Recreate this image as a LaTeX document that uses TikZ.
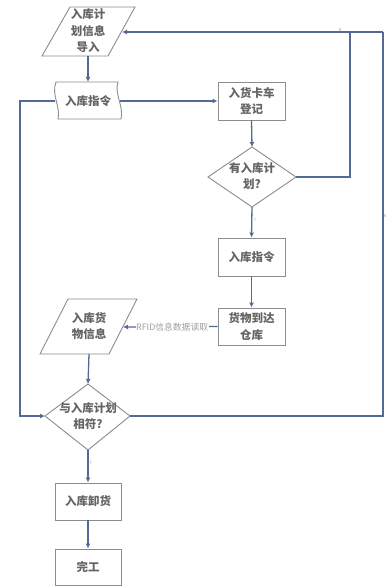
\documentclass[tikz,border=0pt]{standalone}
\usepackage{fontspec}
\setmainfont{Noto Sans CJK SC}
\usetikzlibrary{arrows.meta}
\definecolor{link}{RGB}{84,106,150}
\definecolor{shape}{RGB}{140,140,140}
\definecolor{txt}{RGB}{100,100,100}
\begin{document}
\begin{tikzpicture}[x=1pt,y=-1pt,
  lab/.style={font=\fontsize{11.5}{16.5}\selectfont\bfseries, text=txt, align=center, inner sep=0pt},
  shp/.style={draw=shape, line width=0.9pt, fill=white},
  boxnode/.style={shp, lab, minimum width=67pt, minimum height=38pt},
  conn/.style={draw=link, line width=1.3pt},
  arr/.style={conn, -{Latex[length=5pt,width=5pt]}},
  tiny/.style={font=\fontsize{4}{4}\selectfont, text=gray!70, inner sep=0.5pt},
]
\useasboundingbox (0,0) rectangle (388,588);

% ---- parallelogram 1: import plan
\coordinate (p1tl) at (70,7);  \coordinate (p1tr) at (135,7);
\coordinate (p1br) at (108,56); \coordinate (p1bl) at (42,56);
\draw[shp] (p1tl) -- (p1tr) -- (p1br) -- (p1bl) -- cycle;
\node[lab] (plan) at (88,31) {入库计\\划信息\\导入};
\coordinate (p1s) at (88,56);
\coordinate (p1e) at (122,32);

% ---- tape shape: instruction
\draw[shp] (56,82) -- (118,82)
  .. controls (114,94) and (124,106) .. (121,119)
  -- (58,119)
  .. controls (61,107) and (51,95) .. cycle;
\node[lab] (cmd) at (88,101) {入库指令};
\coordinate (cmdn) at (88,82);
\coordinate (cmde) at (120,101);
\coordinate (cmdw) at (55,101);

% ---- boxes on the right
\node[boxnode] (reg) at (251.5,101) {入货卡车\\登记};
\node[boxnode] (cmd2) at (251.5,257) {入库指令};
\node[boxnode, minimum height=37pt] (arrive) at (251.5,326.5) {货物到达\\仓库};

% ---- diamond 1
\coordinate (d1t) at (252,147); \coordinate (d1r) at (296,177);
\coordinate (d1b) at (252,207); \coordinate (d1l) at (208,177);
\draw[shp] (d1t) -- (d1r) -- (d1b) -- (d1l) -- cycle;
\node[lab] (dec1) at (252,176) {有入库计\\划?};

% ---- parallelogram 2: goods info
\coordinate (p2tl) at (68,299);  \coordinate (p2tr) at (137,299);
\coordinate (p2br) at (109,354); \coordinate (p2bl) at (40,354);
\draw[shp] (p2tl) -- (p2tr) -- (p2br) -- (p2bl) -- cycle;
\node[lab] (goods) at (89,326) {入库货\\物信息};
\coordinate (p2s) at (89,354);
\coordinate (p2e) at (123,327);

% ---- diamond 2
\coordinate (d2t) at (88,384); \coordinate (d2r) at (130,416);
\coordinate (d2b) at (88,450); \coordinate (d2l) at (45,416);
\draw[shp] (d2t) -- (d2r) -- (d2b) -- (d2l) -- cycle;
\node[lab] (dec2) at (88,416) {与入库计划\\相符?};

% ---- bottom boxes
\node[boxnode, minimum width=66pt, minimum height=37pt] (unload) at (88,501.5) {入库卸货};
\node[boxnode, minimum width=66pt, minimum height=36pt] (done) at (88,567) {完工};

% ---- corner coordinates
\coordinate (cl) at (20,101);
\coordinate (cl2) at (20,416);
\coordinate (r1) at (350,177);
\coordinate (r1t) at (350,32);
\coordinate (r2) at (383,416);
\coordinate (r2t) at (383,32);

% ---- connectors
\draw[arr] (p1s) -- (cmdn);
\draw[arr] (cmde) -- (reg.west);
\draw[arr] (cmdw) -- (cl) -- (cl2) -- (d2l);
\draw[arr] (reg.south) -- (d1t);
\draw[conn] (d1r) -- (r1) -- (r1t);
\draw[arr] (r2t) -- (p1e);
\draw[conn] (d2r) -- (r2) -- (r2t);
\draw[arr] (d1b) -- (cmd2.north);
\draw[arr] (cmd2.south) -- (arrive.north);
\draw[arr] (arrive.west) -- node[pos=0.48, fill=white, inner sep=0.5pt, font=\fontsize{8.8}{10}\selectfont, text=gray!75] (rfid) {RFID信息数据读取} (p2e);
\draw[arr] (p2s) -- (d2t);
\draw[arr] (d2b) -- (unload.north);
\draw[arr] (unload.south) -- (done.north);

% ---- small branch marks
\node[tiny] (y1) at (255,220) {Y};
\node[tiny] (y2) at (91,463) {Y};
\node[tiny, above] (n1) at (340,32) {N};
\node[tiny, right] (n2) at (383,216) {N};
\end{tikzpicture}
\end{document}
